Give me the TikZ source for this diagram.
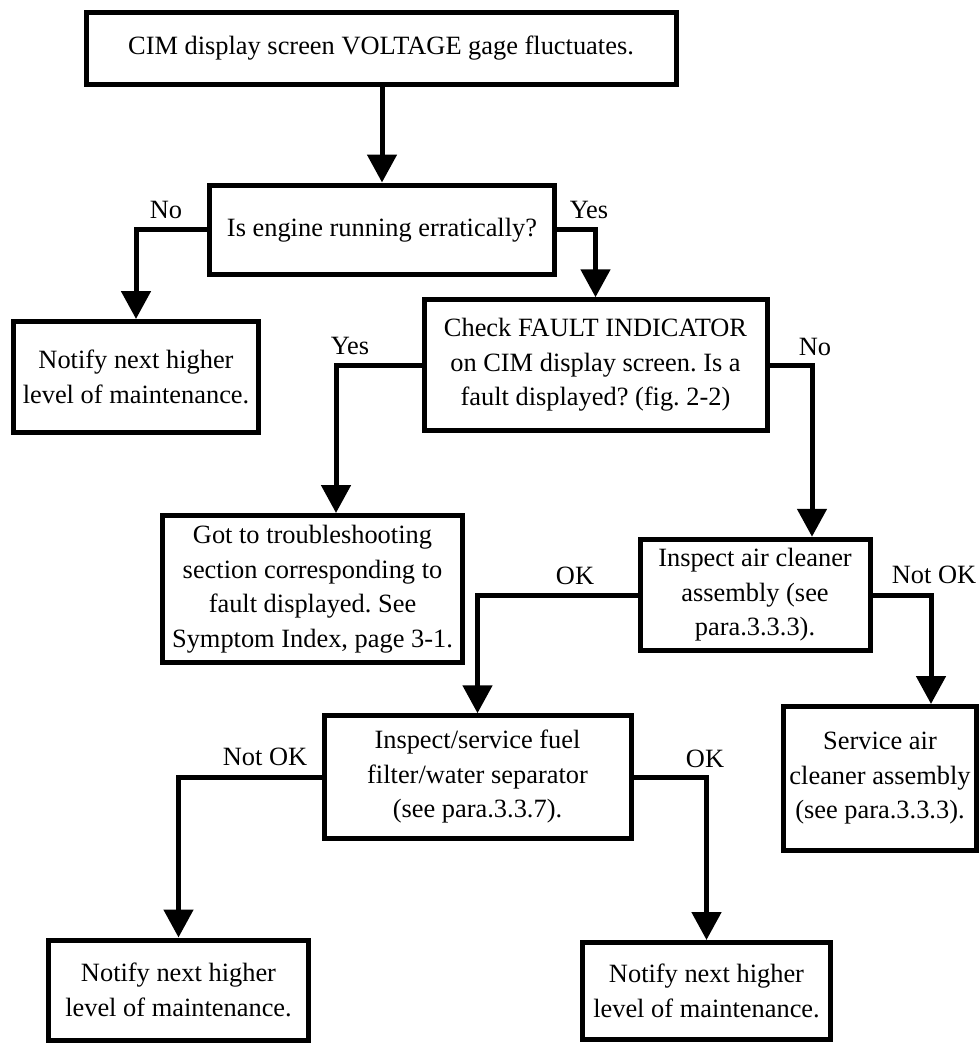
\documentclass[tikz,border=0pt]{standalone}
\usepackage{fontspec}
\setmainfont{Liberation Serif}
\frenchspacing
\usetikzlibrary{arrows.meta}
\tikzset{
  box/.style={draw=black, line width=5pt, fill=white, align=center, inner sep=0pt,
    font=\fontsize{26.4pt}{34.5pt}\selectfont\frenchspacing},
  conn/.style={draw=black, line width=5pt, -{Triangle[width=29pt,length=28pt]}},
  lbl/.style={anchor=base, inner sep=0pt, font=\fontsize{26.4pt}{34.5pt}\selectfont}
}
\begin{document}
\begin{tikzpicture}[x=1pt,y=-1pt]
\fill[white] (0,0) rectangle (979,1044);
\useasboundingbox (0,0) rectangle (979,1044);

\node[box, minimum width=590pt, minimum height=72pt] (b1) at (381,48.5)
  {CIM display screen VOLTAGE gage fluctuates.};
\node[box, minimum width=345pt, minimum height=89.5pt] (b2) at (382,229.75)
  {Is engine running erratically?};
\node[box, minimum width=244.5pt, minimum height=111pt] (b3) at (136,377)
  {Notify next higher\\level of maintenance.};
\node[box, minimum width=343pt, minimum height=130.5pt] (b4) at (595.5,365)
  {Check FAULT INDICATOR\\on CIM display screen. Is a\\fault displayed? (fig. 2-2)};
\node[box, minimum width=300pt, minimum height=147pt] (b5) at (312.5,589)
  {Got to troubleshooting\\section corresponding to\\fault displayed. See\\Symptom Index, page 3-1.};
\node[box, minimum width=230pt, minimum height=111.5pt] (b6) at (755,595)
  {Inspect air cleaner\\assembly (see\\para.3.3.3).};
\node[box, minimum width=307pt, minimum height=122.5pt] (b7) at (477.5,777)
  {Inspect/service fuel\\filter/water separator\\(see para.3.3.7).};
\node[box, minimum width=260pt, minimum height=100pt] (b8) at (178.5,990)
  {Notify next higher\\level of maintenance.};
\node[box, minimum width=193pt, minimum height=144pt] (b9) at (880,778.5)
  {Service air\\cleaner assembly\\(see para.3.3.3).};
\node[box, minimum width=248pt, minimum height=97pt] (b10) at (706.5,991)
  {Notify next higher\\level of maintenance.};

\draw[conn] (b1.south -| b2.north) -- (b2.north);
\draw[conn] (b2.west) -| (b3.north);
\draw[conn] (b2.east) -| (b4.north);
\draw[conn] (b4.west) -| ([xshift=23.5pt]b5.north);
\draw[conn] (b4.east) -| ([xshift=57pt]b6.north);
\draw[conn] (b6.west) -| (b7.north);
\draw[conn] (b6.east) -| ([xshift=51pt]b9.north);
\draw[conn] (b7.west) -| (b8.north);
\draw[conn] (b7.east) -| (b10.north);

\node[lbl] (l1) at (166,218) {No};
\node[lbl] (l2) at (589,218) {Yes};
\node[lbl] (l3) at (350,354) {Yes};
\node[lbl] (l4) at (815,355) {No};
\node[lbl] (l5) at (575,584) {OK};
\node[lbl] (l6) at (934,583) {Not OK};
\node[lbl] (l7) at (265,765) {Not OK};
\node[lbl] (l8) at (705,767) {OK};
\end{tikzpicture}
\end{document}
